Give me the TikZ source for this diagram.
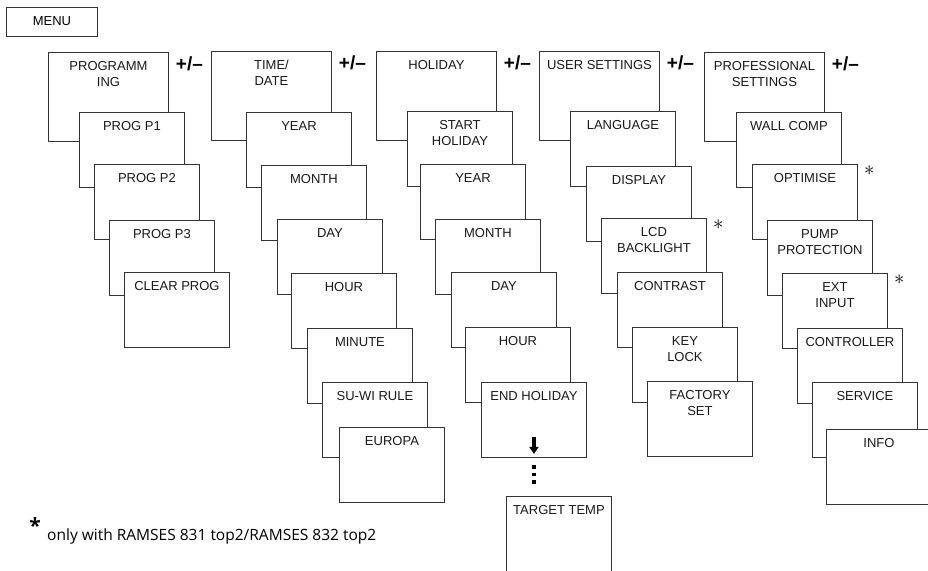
\documentclass[tikz,border=0pt]{standalone}
\usepackage{fontspec}
\setmainfont{Liberation Sans}
\newfontfamily\notefont{Open Sans}
\usetikzlibrary{arrows.meta,positioning,calc}
\tikzset{
  menubox/.style={draw=black!80, line width=0.9pt, fill=white, anchor=north west,
    inner sep=0pt, minimum width=105pt, minimum height=75pt},
  headbox/.style={menubox, minimum width=120pt, minimum height=89pt},
  boxtext/.style={anchor=north, align=center, inner sep=0pt, text=black!90,
    font=\fontsize{13}{16}\selectfont},
  pmtext/.style={anchor=base, inner sep=0pt, font=\fontsize{19}{19}\selectfont\bfseries},
  startext/.style={inner sep=0pt, font=\fontsize{21}{21}\selectfont},
  notetext/.style={inner sep=0pt, font=\notefont\fontsize{15.5}{15.5}\selectfont},
  downarrow/.style={-{Triangle[length=7pt,width=9pt]}, line width=4pt, black},
}
\newcommand{\menucard}[4][menubox]{%
  \node[#1] (#2) at (#3) {};
  \node[boxtext] (#2-txt) at ([yshift=-9.2pt]#2.north) {#4};
}
\newcommand{\plusminus}[1]{%
  \node[pmtext] (#1-pm) at ([xshift=20.5pt,yshift=-18.5pt]#1.north east) {+/–};
}
\newcommand{\onlystar}[1]{%
  \node[startext] (#1-star) at ([xshift=11.5pt,yshift=-7pt]#1.north east) {$\ast$};
}

\begin{document}
\begin{tikzpicture}[x=1pt, y=-1pt]
  \useasboundingbox (0,0) rectangle (928,570);
  \clip (0,0) rectangle (928,570);

  \node[menubox, minimum width=91pt, minimum height=29pt,
    font=\fontsize{13}{16}\selectfont] (menu) at (6,7) {\raisebox{1pt}{MENU}};

  % programming
  \menucard[headbox]{prog}{48,52}{PROGRAMM\\ING}
  \menucard{prog1}{79,112}{PROG P1}
  \menucard{prog2}{94,164}{PROG P2}
  \menucard{prog3}{109,220}{PROG P3}
  \menucard{prog4}{124,272}{CLEAR PROG}
  \plusminus{prog}

  % time / date
  \menucard[headbox]{time}{211,51}{TIME/\\DATE}
  \menucard{time1}{246,112}{YEAR}
  \menucard{time2}{261,165}{MONTH}
  \menucard{time3}{277,219}{DAY}
  \menucard{time4}{291,273}{HOUR}
  \menucard{time5}{307,328}{MINUTE}
  \menucard{time6}{322,382}{SU-WI RULE}
  \menucard{time7}{339,427}{EUROPA}
  \plusminus{time}

  % holiday
  \menucard[headbox]{hol}{376,51}{HOLIDAY}
  \menucard{hol1}{407,111}{START\\HOLIDAY}
  \menucard{hol2}{420,164}{YEAR}
  \menucard{hol3}{435,219}{MONTH}
  \menucard{hol4}{451,272}{DAY}
  \menucard{hol5}{465,327}{HOUR}
  \menucard{hol6}{481,382}{END HOLIDAY}
  \menucard{hol7}{506,496}{TARGET TEMP}
  \plusminus{hol}
  \draw[downarrow] ([yshift=21pt]hol6.south) -- ([yshift=4pt]hol6.south);
  \foreach \dy in {9,16.5,24}
    \fill[black] ([xshift=-1.6pt,yshift=-\dy pt+1.6pt]hol6.south)
      rectangle ([xshift=1.6pt,yshift=-\dy pt-1.6pt]hol6.south);

  % user settings
  \menucard[headbox]{user}{539,51}{USER SETTINGS}
  \menucard{user1}{570,111}{LANGUAGE}
  \menucard{user2}{586,166}{DISPLAY}
  \menucard{user3}{601,218}{LCD\\BACKLIGHT}
  \menucard{user4}{617,272}{CONTRAST}
  \menucard{user5}{632,327}{KEY\\LOCK}
  \menucard{user6}{647,381}{FACTORY\\SET}
  \plusminus{user}
  \onlystar{user3}

  % professional settings
  \menucard[headbox]{prof}{704,52}{PROFESSIONAL\\SETTINGS}
  \menucard{prof1}{736,112}{WALL COMP}
  \menucard{prof2}{752,164}{OPTIMISE}
  \menucard{prof3}{767,220}{PUMP\\PROTECTION}
  \menucard{prof4}{782,273}{EXT\\INPUT}
  \menucard{prof5}{797,328}{CONTROLLER}
  \menucard{prof6}{812,382}{SERVICE}
  \menucard{prof7}{826,429}{INFO}
  \plusminus{prof}
  \onlystar{prof2}
  \onlystar{prof4}

  % footnote
  \node[notetext, anchor=base west] (note) at (47,540)
    {only with RAMSES 831 top2/RAMSES 832 top2};
  \node[notetext, font=\notefont\fontsize{21}{21}\selectfont\bfseries]
    (notestar) at ([xshift=-12pt,yshift=14pt]note.base west) {*};
\end{tikzpicture}
\end{document}
